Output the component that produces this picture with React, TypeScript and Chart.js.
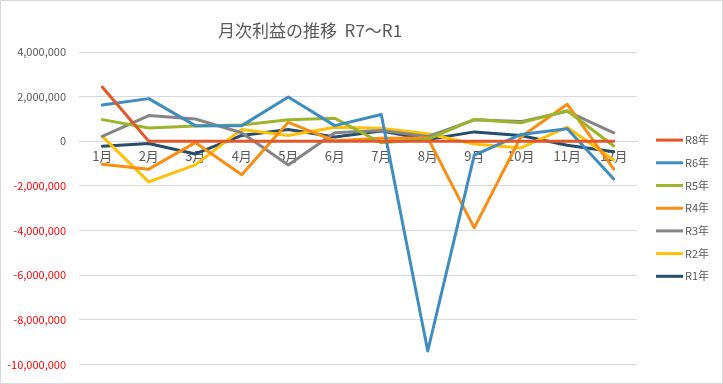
import React, { useEffect, useRef } from "react";
import { Chart, registerables } from "chart.js";

Chart.register(...registerables);

const months = ["1月", "2月", "3月", "4月", "5月", "6月", "7月", "8月", "9月", "10月", "11月", "12月"];

const r8 = [2430000, 0, 0, 0, 0, 0, 0, 0, 0, 0, 0, 0];
const r6 = [1620000, 1910000, 700000, 700000, 1980000, 700000, 1200000, -9400000, -620000, 300000, 560000, -1690000];
const r5 = [970000, 590000, 680000, 730000, 960000, 1030000, -70000, 90000, 980000, 830000, 1370000, -210000];
const r4 = [-1030000, -1250000, -60000, -1500000, 850000, 20000, 130000, 150000, -3880000, 190000, 1660000, -1250000];
const r3 = [220000, 1150000, 1000000, 380000, -1060000, 380000, 480000, 210000, 960000, 880000, 1340000, 380000];
const r2 = [220000, -1820000, -1060000, 530000, 260000, 630000, 580000, 340000, -120000, -300000, 630000, -840000];
const r1 = [-220000, -100000, -570000, 260000, 530000, 190000, 460000, 80000, 420000, 260000, -180000, -470000];

const seriesNames = ["R8年", "R6年", "R5年", "R4年", "R3年", "R2年", "R1年"];
const seriesValues = [r8, r6, r5, r4, r3, r2, r1];
const seriesColors = ["#E2582B", "#3F8DC0", "#9DB52B", "#F88F14", "#858585", "#FFC108", "#264D6B"];

const yTicks = [4000000, 2000000, 0, -2000000, -4000000, -6000000, -8000000, -10000000];

const titleText = "月次利益の推移  R7～R1";
const FONT = "'Noto Sans CJK JP', 'Noto Sans', sans-serif";

const framePlugin = {
  id: "frame",
  beforeDraw(chart: any) {
    const ctx = chart.ctx;
    ctx.save();
    ctx.fillStyle = "#ffffff";
    ctx.fillRect(0, 0, chart.width, chart.height);
    ctx.strokeStyle = "#D9D9D9";
    ctx.lineWidth = 1;
    ctx.strokeRect(0.5, 0.5, chart.width - 1, chart.height - 1);
    ctx.restore();
  },
};

const titlePlugin = {
  id: "sideTitle",
  afterDraw(chart: any) {
    const ctx = chart.ctx;
    ctx.save();
    ctx.font = `17px ${FONT}`;
    ctx.fillStyle = "#595959";
    ctx.textAlign = "left";
    ctx.textBaseline = "middle";
    ctx.fillText(titleText, 218, 31);
    ctx.restore();
  },
};

const legendPlugin = {
  id: "sideLegend",
  afterDraw(chart: any) {
    const ctx = chart.ctx;
    const area = chart.chartArea;
    const n = chart.data.datasets.length;
    const spacing = 22.7;
    const midY = (area.top + area.bottom) / 2;
    const startY = midY - ((n - 1) * spacing) / 2;
    ctx.save();
    ctx.font = `11px ${FONT}`;
    ctx.textAlign = "left";
    ctx.textBaseline = "middle";
    chart.data.datasets.forEach((ds: any, i: number) => {
      const y = startY + i * spacing;
      ctx.strokeStyle = ds.borderColor;
      ctx.lineWidth = 3;
      ctx.beginPath();
      ctx.moveTo(area.right + 19, y);
      ctx.lineTo(area.right + 46, y);
      ctx.stroke();
      ctx.fillStyle = "#595959";
      ctx.fillText(ds.label, area.right + 48, y);
    });
    ctx.restore();
  },
};

function App() {
  const canvasRef = useRef<HTMLCanvasElement | null>(null);

  useEffect(() => {
    document.body.style.margin = "0";
    const canvas = canvasRef.current;
    if (!canvas) return;
    const chart = new Chart(canvas, {
      type: "line",
      data: {
        labels: months,
        datasets: seriesNames.map((name, i) => ({
          label: name,
          data: seriesValues[i],
          borderColor: seriesColors[i],
          backgroundColor: seriesColors[i],
          borderWidth: 3,
          pointRadius: 0,
          pointHoverRadius: 0,
          tension: 0,
          fill: false,
          borderJoinStyle: "round" as const,
          borderCapStyle: "round" as const,
        })),
      },
      options: {
        animation: false,
        responsive: false,
        maintainAspectRatio: false,
        layout: { padding: { left: 0, right: 86, top: 52, bottom: 15 } },
        plugins: {
          legend: { display: false },
          title: { display: false },
          tooltip: { enabled: false },
        },
        scales: {
          x: {
            type: "category",
            offset: true,
            position: { y: 0 } as any,
            grid: { display: false, drawTicks: false },
            border: { display: true, color: "#D9D9D9", width: 1 },
            ticks: {
              color: "#595959",
              font: { family: FONT, size: 13 },
              padding: 7,
              autoSkip: false,
              maxRotation: 0,
            },
          },
          y: {
            min: -10000000,
            max: 4000000,
            afterFit(scale: any) {
              scale.width = 79;
            },
            afterBuildTicks(scale: any) {
              scale.ticks = yTicks.map((v) => ({ value: v }));
            },
            grid: { color: "#D9D9D9", lineWidth: 1, drawTicks: false },
            border: { display: false },
            ticks: {
              padding: 13,
              font: { family: FONT, size: 11 },
              color: (ctx: any) => (ctx.tick && ctx.tick.value < 0 ? "#FF0000" : "#595959"),
              callback: (v: any) => Number(v).toLocaleString("en-US"),
            },
          },
        },
      },
      plugins: [framePlugin, titlePlugin, legendPlugin],
    });
    return () => chart.destroy();
  }, []);

  return (
    <div style={{ width: 723, height: 384, position: "relative" }}>
      <canvas ref={canvasRef} width={723} height={384} style={{ width: 723, height: 384, display: "block" }} />
    </div>
  );
}

export default App;
